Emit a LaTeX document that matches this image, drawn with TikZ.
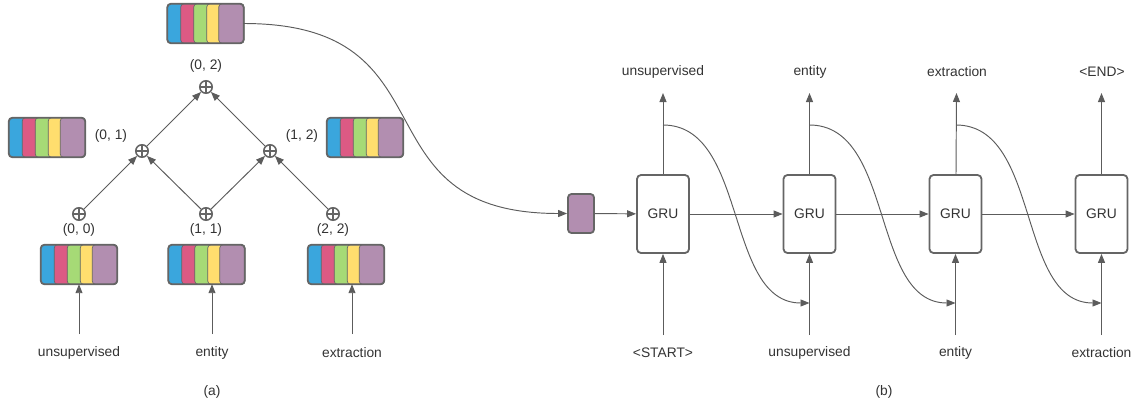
\documentclass[tikz,border=0pt]{standalone}
\usepackage{fontspec}
\setmainfont{Liberation Sans}
\usetikzlibrary{arrows.meta}
\definecolor{vblue}{HTML}{3AA6DD}
\definecolor{vred}{HTML}{DC5A84}
\definecolor{vgreen}{HTML}{A6DA76}
\definecolor{vyellow}{HTML}{FFDE6E}
\definecolor{vpurple}{HTML}{B28EB0}
\definecolor{lgray}{HTML}{5C5C5C}
\definecolor{bgray}{HTML}{656565}
\definecolor{tgray}{HTML}{333333}
\tikzset{
  conn/.style={draw=lgray, line width=0.95pt, -{Triangle[length=9pt,width=7pt]}},
  plainline/.style={draw=lgray, line width=0.95pt},
  lbl/.style={text=tgray, font=\fontsize{13.8}{16}\selectfont, inner sep=0pt},
  stackbox/.style={rectangle, minimum width=76pt, minimum height=39pt, inner sep=0pt},
  stripe/.style={draw=bgray, line width=0.7pt, rounded corners=3pt},
  outerbox/.style={draw=bgray, line width=1.8pt, rounded corners=3.5pt},
  grubox/.style={draw=bgray, line width=1.8pt, rounded corners=4pt, fill=white,
    minimum width=52pt, minimum height=78pt, inner sep=0pt, text=tgray,
    font=\fontsize{13.8}{16}\selectfont},
  oplus/.style={circle, draw=bgray, line width=1.5pt, minimum size=12.5pt, inner sep=0pt,
    path picture={\draw[bgray, line width=1.5pt]
      (path picture bounding box.north) -- (path picture bounding box.south)
      (path picture bounding box.west) -- (path picture bounding box.east);}},
}
\newcommand\vecstack[3]{%
  \node[stackbox] (#1) at (#2,#3) {};
  \filldraw[stripe, fill=vblue] (#1.south west) rectangle (#1.north east);
  \filldraw[stripe, fill=vred] ([xshift=13.5pt]#1.south west) rectangle (#1.north east);
  \filldraw[stripe, fill=vgreen] ([xshift=26.5pt]#1.south west) rectangle (#1.north east);
  \filldraw[stripe, fill=vyellow] ([xshift=39.5pt]#1.south west) rectangle (#1.north east);
  \filldraw[stripe, fill=vpurple] ([xshift=51.5pt]#1.south west) rectangle (#1.north east);
  \draw[outerbox] (#1.south west) rectangle (#1.north east);
}
\begin{document}
\begin{tikzpicture}[x=1pt,y=-1pt]
\useasboundingbox (0,0) rectangle (1138,402);

% ---------- (a) ----------
\vecstack{s02}{205.5}{23.5}
\vecstack{s01}{47}{137.5}
\vecstack{s12}{365}{137.5}
\vecstack{s00}{79}{264.5}
\vecstack{s11}{206.5}{264.5}
\vecstack{s22}{346}{264.5}

\node[oplus] (p02) at (206,87) {};
\node[oplus] (p01) at (142,151) {};
\node[oplus] (p12) at (270,151) {};
\node[oplus] (p00) at (79,214) {};
\node[oplus] (p11) at (206,214) {};
\node[oplus] (p22) at (333,214) {};

\node[lbl] (l02) at (206,66) {(0, 2)};
\node[lbl] (l01) at (111,136) {(0, 1)};
\node[lbl] (l12) at (302,136) {(1, 2)};
\node[lbl] (l00) at (79,230) {(0, 0)};
\node[lbl] (l11) at (206,230) {(1, 1)};
\node[lbl] (l22) at (333,230) {(2, 2)};

\draw[conn] (p00) -- (p01);
\draw[conn] (p11) -- (p01);
\draw[conn] (p11) -- (p12);
\draw[conn] (p22) -- (p12);
\draw[conn] (p01) -- (p02);
\draw[conn] (p12) -- (p02);

\node[lbl] (wa1) at (79,353) {unsupervised};
\node[lbl] (wa2) at (212,353) {entity};
\node[lbl] (wa3) at (352,353) {extraction};
\coordinate (ia1) at (79,334);
\coordinate (ia2) at (212,334);
\coordinate (ia3) at (352,334);
\draw[conn] (ia1) -- (ia1 |- s00.south);
\draw[conn] (ia2) -- (ia2 |- s11.south);
\draw[conn] (ia3) -- (ia3 |- s22.south);
\node[lbl] (capa) at (212,392) {(a)};

% ---------- (b) ----------
\node[rectangle, draw=bgray, line width=1.8pt, rounded corners=3.5pt, fill=vpurple,
  minimum width=26pt, minimum height=39pt, inner sep=0pt] (h0) at (581,213.5) {};

\node[grubox] (g1) at (663,214) {GRU};
\node[grubox] (g2) at (809.5,214) {GRU};
\node[grubox] (g3) at (955.5,214) {GRU};
\node[grubox] (g4) at (1101.5,214) {GRU};

\draw[plainline, -{Triangle[length=9pt,width=7pt]}] (s02.east) .. controls +(215,0) and +(-215,0) .. (h0.west);

\draw[conn] (h0) -- (g1);
\draw[conn] (g1) -- (g2);
\draw[conn] (g2) -- (g3);
\draw[conn] (g3) -- (g4);

\node[lbl] (o1) at (663,72) {unsupervised};
\node[lbl] (o2) at (810,72) {entity};
\node[lbl] (o3) at (957,72) {extraction};
\node[lbl] (o4) at (1102,72) {<END>};
\coordinate (t1) at (663,93);
\coordinate (t2) at (809.5,93);
\coordinate (t3) at (956.5,93);
\coordinate (t4) at (1101.5,93);
\draw[conn] (g1.north) -- (t1);
\draw[conn] (g2.north) -- (t2);
\draw[conn] ([xshift=0.5pt]g3.north) -- (t3);
\draw[conn] (g4.north) -- (t4);

\node[lbl] (w1) at (663,353) {<START>};
\node[lbl] (w2) at (809.5,353) {unsupervised};
\node[lbl] (w3) at (955.5,353) {entity};
\node[lbl] (w4) at (1101.5,353) {extraction};
\coordinate (b1) at (663,335);
\coordinate (b2) at (809.5,335);
\coordinate (b3) at (955.5,335);
\coordinate (b4) at (1101.5,335);
\draw[conn] (b1) -- (g1.south);
\draw[conn] (b2) -- (g2.south);
\draw[conn] (b3) -- (g3.south);
\draw[conn] (b4) -- (g4.south);

\coordinate (c1) at (663,125);
\coordinate (c2) at (809.5,125);
\coordinate (c3) at (956,125);
\coordinate (j2) at (809.5,303);
\coordinate (j3) at (955.5,303);
\coordinate (j4) at (1101.5,303);
\draw[conn] (c1) .. controls +(85,0) and +(-85,0) .. (j2);
\draw[conn] (c2) .. controls +(85,0) and +(-85,0) .. (j3);
\draw[conn] (c3) .. controls +(85,0) and +(-85,0) .. (j4);

\node[lbl] (capb) at (884,392) {(b)};
\end{tikzpicture}
\end{document}
